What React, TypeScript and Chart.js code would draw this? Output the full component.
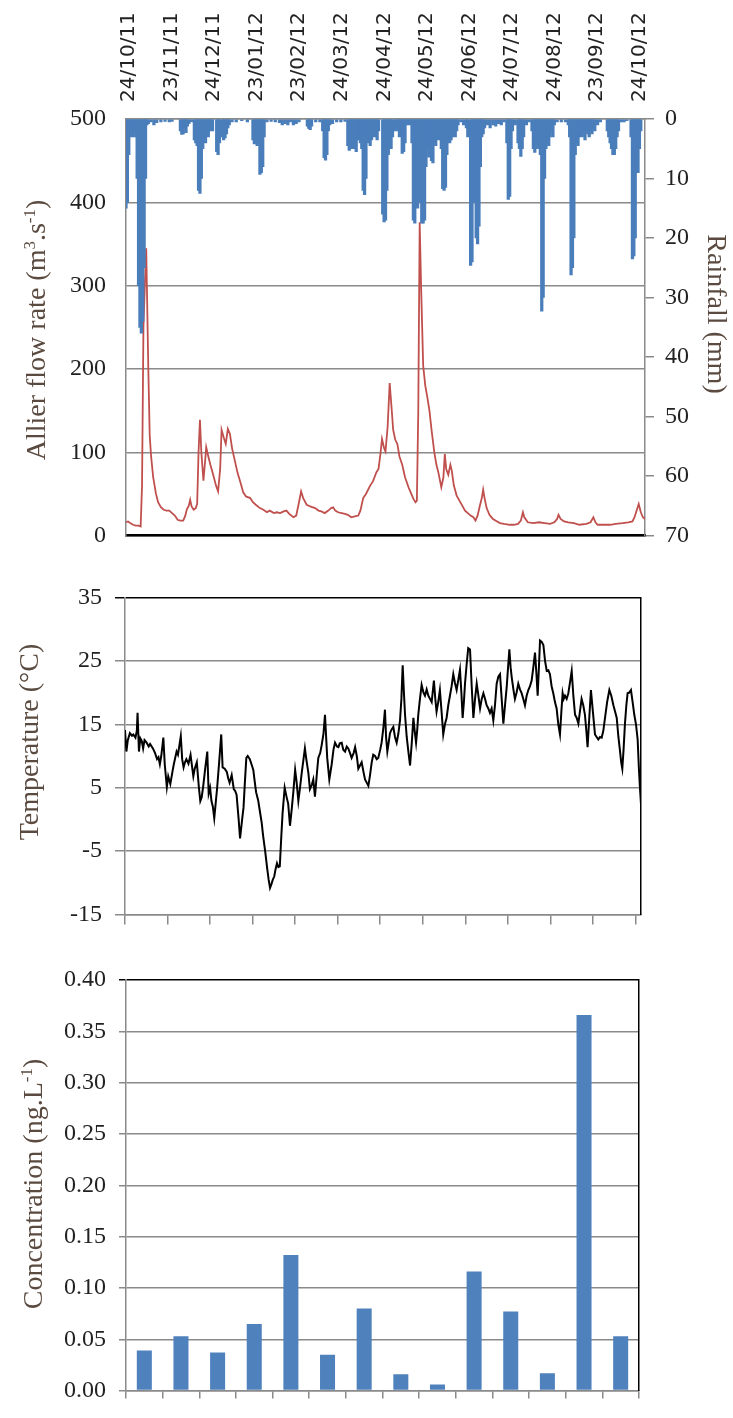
import React, { useEffect, useRef } from 'react';
import { Chart, registerables } from 'chart.js';

Chart.register(...registerables);

// ---------- data ----------
const dateLabels = ['24/10/11', '23/11/11', '24/12/11', '23/01/12', '23/02/12', '24/03/12', '24/04/12', '24/05/12', '24/06/12', '24/07/12', '24/08/12', '23/09/12', '24/10/12'];
const dateTickDays = [0, 30.5, 61, 91.5, 122, 152.5, 183, 213.5, 244, 274.5, 305, 335.5, 366];

// daily rainfall [day, mm]
const rainfall: [number, number][] = [
  [0,15],[1,14],[2,6],[3,3],[4,2.5],[5,3],[6,2],[7,3],[8,10],[9,28],[10,35],[11,36],[12,34],[13,25],[14,10],[15,1],[16,0.8],[18,0.5],[20,1],[22,0.6],[25,0.5],[28,0.4],[31,0.5],[33,0.4],
  [39,2],[40,2.6],[41,2.5],[42,1.5],[43,2.3],[44,1.2],[45,0.8],[47,0.5],[49,3.5],[50,4],[51,4.5],[52,12],[53,12.5],[54,10],[55,5],[56,3],[57,4],[58,2.5],[59,3],[60,2],[61,1.5],[62,2],
  [65,5.5],[66,6],[67,4],[69,3],[70,3.5],[71,3.2],[72,2.5],[73,1.5],[74,1],[76,0.5],[79,0.5],[83,0.3],[87,0.5],[91,3.5],[92,4.2],[93,4],[94,4.5],[95,4],[96,9.3],[97,9],[98,8],[99,3],
  [101,0.5],[104,0.4],[107,0.5],[110,0.6],[112,1],[114,0.8],[116,1],[118,0.5],[120,1],[122,0.8],[124,0.5],[130,1.2],[131,1.6],[132,1.8],[133,1.2],[136,0.5],[139,0.5],
  [141,2],[142,6.5],[143,6.9],[144,6],[145,2],[146,1],[148,0.8],[151,0.5],[154,0.5],[157,0.4],[159,4.5],[160,5.3],[161,5],[162,4.5],[163,5],[164,4],[165,5.5],[166,3.5],[167,3],[168,4],[169,5],
  [170,12],[171,12.7],[172,10],[173,4],[174,3],[175,4.5],[176,3.5],[177,2.5],[178,3],[179,2],[180,3.5],[181,2],[184,16],[185,17.3],[186,17],[187,12],[188,6],[189,5],[190,5],[191,3],
  [193,2],[194,1.5],[195,2],[196,3],[197,2],[198,5.8],[199,5.5],[200,4],[201,1],[202,0.8],[203,1],[204,0.8],[205,4],[206,17],[207,17.5],[208,12],[209,15],[210,10],[211,14],[212,17.5],
  [213,17.5],[214,17],[215,8],[216,5],[217,6.4],[218,5],[219,7],[220,7.4],[221,4],[222,4.5],[223,3],[224,3.5],[225,3],[226,5],[227,11.7],[228,12],[229,11.5],[230,6],[231,3.5],[232,4],
  [233,3.5],[234,3],[235,2],[236,3],[237,2],[238,1],[240,0.5],[242,1],[244,1.5],[245,3],[247,24.6],[248,24],[249,14],[250,12],[251,20],[252,21],[253,18],[254,8],[255,3],[256,2.5],[257,1.5],
  [259,1],[261,1.5],[263,1],[265,1.2],[267,0.8],[269,1],[271,0.5],[273,4],[274,13.5],[275,13],[276,5],[277,2],[279,1],[281,4],[282,5],[283,6.3],[284,5],[285,3],[287,1],[289,0.5],[291,2],
  [292,5],[293,5.6],[294,5],[295,4.5],[296,5],[297,6],[298,32.3],[299,30],[300,10],[301,5],[302,4],[303,4.5],[304,3],[305,2],[306,3],[307,1],[309,0.5],[312,0.5],[315,0.5],[317,1],
  [318,3],[319,26.2],[320,25],[321,20],[322,6],[323,4],[324,4.5],[325,3],[326,2.5],[327,3],[328,2.5],[329,3.5],[330,2],[331,2.5],[332,3],[333,2],[334,2.5],[335,1.5],[336,2],[338,1],[340,0.5],
  [345,2],[346,3],[347,4],[348,5],[349,6],[350,6],[351,5],[352,3],[353,2],[355,0.5],[357,0.5],[359,0.3],[362,3],[363,23.5],[364,23],[365,20],[366,9],[367,9],[368,5],[369,2]
];

// Allier flow rate [day, m3/s]
const flow: [number, number][] = [
  [0,16],[1.5,17],[3,15],[5,13],[7,12],[9,12],[10.5,11],[11.5,60],[12.5,250],[13.5,300],[14.5,345],[16,200],[17,120],[18,95],[19.5,70],[21.5,50],[23,40],[25,34],[27,31],[29,30],[31,30],
  [33,27],[35,24],[37,19],[39,18],[41,18],[42.5,24],[43.5,31],[45,36],[46,43],[47,35],[48.5,31],[50,33],[51,38],[52,100],[53,139],[54,100],[55.5,66],[56.5,85],[57.5,106],[59,95],[60.5,85],
  [62.5,73],[64.5,60],[66,53],[67.5,80],[68.5,127],[70,118],[71.5,110],[73,128],[74.5,122],[76,105],[78,90],[80,75],[82,64],[84,52],[86,47],[89,45],[91,40],[93,37],[96,33],[98.5,31],
  [101,28],[103,30],[106,27],[108,28],[110.5,27],[113,29],[115,30],[117,26],[120,22],[122,24],[124,40],[125.5,53],[127,45],[129.5,37],[132,35],[135.5,33],[138,30],[140,29],[142.5,27],
  [145,30],[147,33],[148.5,34],[150,30],[152,28],[154.5,27],[157,26],[159,25],[161.5,22],[164,23],[166.5,24],[168,30],[170,45],[172,50],[175,60],[177,65],[179.5,76],[181,80],[182.5,100],
  [183.5,116],[185,105],[186,101],[187.5,130],[189,183],[190.5,150],[191.5,127],[193,115],[194.5,110],[196,95],[198,85],[200,70],[202.5,58],[204.5,50],[206,44],[207.5,40],[208.5,42],
  [209.5,150],[210.5,376],[211.5,300],[213,204],[214.5,180],[216,166],[217.5,150],[219,127],[221,100],[222.5,85],[224,75],[226,58],[227.5,70],[228.5,98],[229.5,80],[231,73],[232.5,85],
  [233.5,78],[235,60],[237,48],[239,42],[241,36],[243,30],[245,27],[247,24],[249,22],[250.5,18],[252,24],[253.5,35],[255,45],[256,55],[257,45],[258.5,33],[260.5,25],[263,20],[266,17],
  [268,15],[271,14],[275,13],[278,13],[281,14],[283,18],[284.5,28],[285.5,22],[288,16],[292,15],[296,16],[300,15],[304,14],[307,16],[309,20],[310,25],[311.5,20],[314,17],[317,16],[321,15],
  [325,13],[330,14],[333,16],[335,22],[336.5,16],[338,13],[342,13],[347,13],[351,14],[356,15],[360,16],[363,17],[364.5,22],[366,30],[367.5,38],[369,28],[370.5,22],[372,20]
];

// water temperature [day, degC]
const temperature: [number, number][] = [
  [0,14.1],[1,10.7],[2,12.5],[3.5,13.6],[5,13.2],[6,13.4],[7.5,12.9],[8.5,14],[9,16.8],[10,10.7],[11,12.8],[12,12.4],[13,11.2],[14,12.5],[15.5,12.1],[17,11.5],[18,11.9],[20,11.2],
  [21.5,10.5],[23,9.5],[24,9.8],[25,8.7],[26,10],[27.5,12.9],[28.5,8.7],[30,5.1],[31,6.8],[32.5,5.6],[34,7.5],[35,8.7],[37,10.7],[38,10.2],[40,13.1],[41,9.5],[42,8.2],[43,9],[44,9.5],
  [45.5,8.8],[47,10.2],[48,8.5],[49,6.8],[50,8],[51.5,9],[53,5],[54,2.9],[55,3.5],[56,5.1],[57.5,8],[59,10.7],[60,4.1],[61,5],[62,2.9],[63,2],[64,0.2],[65,2.5],[66,4.8],[67.5,9],
  [69,13.4],[70,8.2],[71.5,8],[73,7.5],[74,6.5],[75,5.8],[76.5,7],[78,4.8],[79,4.5],[80,3.9],[81.5,0],[82.5,-3],[84,0],[85,1.9],[86,6],[87,9.7],[88,10],[89.5,9.5],[91,8.5],[92,7.8],
  [93,6],[94,4.3],[95.5,3],[97,0.9],[98,-0.5],[99,-2.5],[100.5,-5],[102,-7.8],[103,-9.5],[104,-10.8],[105,-10.2],[106,-9.5],[107,-9],[108,-7.8],[109,-6.9],[110,-7.5],[111,-7.4],
  [112,-3],[113,1],[114.5,5],[116,3.4],[117,2.5],[118.3,-1],[119.5,1.5],[120.7,4.3],[122,7.8],[123,6],[124.3,2.9],[125.5,5],[126.7,7.3],[128,9.5],[129,11.2],[130,9.5],[131.5,7.3],
  [132.6,4.8],[134,5.5],[135,6.3],[136.2,3.6],[137.5,7],[138.6,9.7],[140,10.5],[141,11.7],[142.3,13.5],[143.4,16.5],[145,9.7],[146.5,6.3],[148.2,8.7],[149.5,11],[150.6,12.1],[152,11.5],
  [153,11.4],[154,12],[155.4,12.1],[156.5,11],[157.8,10.7],[159,11.5],[160.1,11.2],[161.3,10.5],[162.5,9.7],[164,10.5],[165,11.4],[166.2,10],[167.3,8],[168.5,8.5],[169.7,9],[171,7.5],
  [172.1,6.3],[173.3,5.8],[174.5,5.3],[175.7,7],[176.9,9],[178,10.2],[179.3,10],[180.5,9.5],[181.6,9.7],[183,11],[184,12.1],[185.3,14.5],[186.4,17.3],[187.2,13],[188.1,10.7],[189,12],
  [190,13.6],[191.2,14.2],[192.4,14.6],[193.6,13],[194.8,12.1],[196,13.5],[197.2,15.6],[198.2,19],[199.1,24.3],[200,20],[200.8,16.5],[202,13],[203.2,10.7],[204.4,8.5],[205.6,12],
  [206.8,16],[207.7,14],[208.7,12.1],[209.5,14],[210.3,16.5],[211.5,19],[212.7,21.2],[214,20],[215.1,19.5],[216.3,20.5],[217.5,19.5],[218.7,19],[219.9,18.5],[221.5,21.9],[222.5,19],
  [223.4,17],[224.6,18.5],[225.8,20.4],[227,17],[228.2,13.4],[229.4,15],[230.6,16],[231.8,18],[233,19.5],[234.2,21],[235.4,22.9],[236.6,21.5],[237.8,20.4],[239,22],[240.2,23.6],
  [241.2,20],[242.1,16],[243,18.5],[243.8,21.4],[245,24.5],[246.1,27],[247.4,26.8],[248.6,21],[249.8,16],[251,19],[252.2,21.4],[253.4,19.5],[254.6,17.5],[255.8,19],[257,19.9],
  [258.2,19],[259.3,18],[260.5,17.5],[261.7,16.8],[262.9,17.5],[264.1,15.6],[265.3,18],[266.5,21.4],[267.7,22.5],[268.9,22.9],[270.1,19],[271.3,15.1],[272.5,18],[273.7,20.9],[274.7,24],
  [275.6,26.8],[276.5,24],[277.3,22.4],[278.5,20.5],[279.6,19],[280.8,20],[282,21.4],[283.2,20.5],[284.4,19.9],[285.6,19],[286.8,18],[288,19.5],[289.2,20.4],[290.4,21],[291.6,21.9],
  [292.8,24],[294,26.3],[295,23],[295.9,19.5],[296.8,24],[297.6,28.2],[298.8,28],[300,27.5],[301.2,25],[302.4,23.4],[303.6,23.5],[304.7,22.9],[305.9,21],[307.1,19.9],[308.3,18.5],
  [309.5,17.5],[310.7,15],[311.9,13.4],[312.9,17],[313.8,19.9],[314.6,19],[315.5,19.5],[316.7,19],[317.9,19.9],[319,21.5],[320.3,23.4],[321.5,19.5],[322.7,16.5],[323.9,16],[325.1,15.1],
  [326.2,17],[327.4,19],[328.6,18],[329.8,16.5],[330.8,14],[331.7,11.4],[332.9,16],[334.1,20.4],[335.5,17],[337,13.4],[338.2,13],[339.4,12.6],[340.6,13],[341.8,12.9],[343,14],[344.2,16],
  [345.7,18.5],[347.3,20.4],[348.7,19.5],[350.2,18],[351.4,17],[352.6,16],[353.8,13],[355,10.7],[355.8,9],[356.6,8],[357.5,11],[358.5,15.1],[359.5,18],[360.4,19.9],[361.6,20],
  [362.8,20.4],[364,18.5],[365.2,16.5],[366.4,15],[367.6,12.6],[368.5,8],[369.3,4.8],[370,2.4]
];

const sampleLabels = ['1', '2', '3', '4', '5', '6', '7', '8', '9', '10', '11', '12', '13', '14'];
const concentration = [0.039, 0.053, 0.037, 0.065, 0.132, 0.035, 0.080, 0.016, 0.006, 0.116, 0.077, 0.017, 0.366, 0.053];

// ---------- styles ----------
const GRID = '#8a8a8a';
const TICK_COLOR = '#222';
const TITLE_COLOR = '#5a4a40';
const SERIF = "'Liberation Serif', 'Times New Roman', serif";
const TICK_FONT = { family: SERIF, size: 24 };
const TITLE_SIZE = 28;

type Seg = { t: string; sup?: boolean };
type TitleSpec = { segs: Seg[]; x: number; y: number; rot: number };

function makeTitlePlugin(id: string, specs: TitleSpec[]) {
  return {
    id,
    afterDraw(chart: any) {
      const ctx: CanvasRenderingContext2D = chart.ctx;
      for (const s of specs) {
        ctx.save();
        ctx.translate(s.x, s.y);
        ctx.rotate(s.rot);
        ctx.fillStyle = TITLE_COLOR;
        ctx.textBaseline = 'alphabetic';
        ctx.textAlign = 'left';
        const fN = `${TITLE_SIZE}px ${SERIF}`;
        const fS = `${Math.round(TITLE_SIZE * 0.6)}px ${SERIF}`;
        let total = 0;
        const widths = s.segs.map((seg) => {
          ctx.font = seg.sup ? fS : fN;
          const w = ctx.measureText(seg.t).width;
          total += w;
          return w;
        });
        const base = TITLE_SIZE * 0.33;
        let cx = -total / 2;
        s.segs.forEach((seg, i) => {
          ctx.font = seg.sup ? fS : fN;
          ctx.fillText(seg.t, cx, seg.sup ? base - TITLE_SIZE * 0.38 : base);
          cx += widths[i];
        });
        ctx.restore();
      }
    },
  };
}

export default function App() {
  const r1 = useRef<HTMLCanvasElement>(null);
  const r2 = useRef<HTMLCanvasElement>(null);
  const r3 = useRef<HTMLCanvasElement>(null);

  useEffect(() => {
    const setDateTicks = (s: any) => {
      s.ticks = dateTickDays.map((v) => ({ value: v }));
    };

    const c1 = new Chart(r1.current as HTMLCanvasElement, {
      type: 'bar',
      data: {
        datasets: [
          {
            type: 'bar',
            label: 'Rainfall (mm)',
            data: rainfall.map(([d, v]) => ({ x: d, y: v })),
            xAxisID: 'x',
            yAxisID: 'y2',
            backgroundColor: '#4a7ebb',
            borderWidth: 0,
            barThickness: 2.6,
            order: 0,
          } as any,
          {
            type: 'line',
            label: 'Allier flow rate',
            data: flow.map(([d, v]) => ({ x: d, y: v })),
            xAxisID: 'x',
            yAxisID: 'y',
            borderColor: '#c0504d',
            borderWidth: 1.8,
            pointRadius: 0,
            tension: 0,
            order: 1,
          } as any,
        ],
      },
      options: {
        responsive: false,
        animation: false,
        layout: { padding: 0 },
        plugins: { legend: { display: false }, tooltip: { enabled: false } },
        scales: {
          x: {
            type: 'linear',
            position: 'top',
            offset: false,
            min: 0,
            max: 372,
            afterBuildTicks: setDateTicks,
            afterFit: (s: any) => { s.height = 119; },
            grid: { display: false, drawTicks: false, offset: false },
            border: { display: true, color: GRID, width: 1.5 },
            ticks: {
              autoSkip: false,
              minRotation: 90,
              maxRotation: 90,
              padding: 17,
              labelOffset: 27,
              font: { family: "'DejaVu Sans', sans-serif", size: 20 },
              color: TICK_COLOR,
              callback: (_v: any, i: number) => dateLabels[i],
            },
          },
          xb: {
            type: 'linear',
            position: 'bottom',
            offset: false,
            min: 0,
            max: 372,
            afterFit: (s: any) => { s.height = 16; },
            grid: { display: false, drawTicks: false },
            ticks: { display: false },
            border: { display: true, color: '#000', width: 2.5 },
          },
          y: {
            position: 'left',
            min: 0,
            max: 500,
            afterFit: (s: any) => { s.width = 126; },
            ticks: { stepSize: 100, padding: 20, font: TICK_FONT, color: TICK_COLOR },
            grid: { color: GRID, lineWidth: 1.5, drawTicks: false },
            border: { color: GRID, width: 1.5 },
          },
          y2: {
            position: 'right',
            min: 0,
            max: 70,
            reverse: true,
            afterFit: (s: any) => { s.width = 88; },
            ticks: { stepSize: 10, padding: 11, font: TICK_FONT, color: TICK_COLOR },
            grid: { drawOnChartArea: false, tickLength: 9, color: GRID, lineWidth: 1.5 },
            border: { color: GRID, width: 1.5 },
          },
        },
      } as any,
      plugins: [
        makeTitlePlugin('titles1', [
          { segs: [{ t: 'Allier flow rate (m' }, { t: '3', sup: true }, { t: '.s' }, { t: '-1', sup: true }, { t: ')' }], x: 36, y: 330, rot: -Math.PI / 2 },
          { segs: [{ t: 'Rainfall (mm)' }], x: 717, y: 314, rot: Math.PI / 2 },
        ]),
      ],
    });

    const c2 = new Chart(r2.current as HTMLCanvasElement, {
      type: 'line',
      data: {
        datasets: [
          {
            label: 'Temperature',
            data: temperature.map(([d, v]) => ({ x: d, y: v })),
            borderColor: '#000',
            borderWidth: 2,
            pointRadius: 0,
            tension: 0,
          },
        ],
      },
      options: {
        responsive: false,
        animation: false,
        layout: { padding: { top: 17 } },
        plugins: { legend: { display: false }, tooltip: { enabled: false } },
        scales: {
          x: {
            type: 'linear',
            position: 'bottom',
            min: 0,
            max: 370,
            afterBuildTicks: setDateTicks,
            afterFit: (s: any) => { s.height = 13; },
            ticks: { display: false },
            grid: { drawOnChartArea: false, tickLength: 10, color: GRID, lineWidth: 1.5 },
            border: { color: GRID, width: 1.5 },
          },
          y: {
            position: 'left',
            min: -15,
            max: 35,
            afterFit: (s: any) => { s.width = 125; },
            ticks: { stepSize: 10, padding: 13, font: TICK_FONT, color: TICK_COLOR },
            grid: {
              color: (c: any) => (c.tick && c.tick.value === 35 ? '#000' : GRID),
              lineWidth: 1.5,
              tickLength: 10,
            },
            border: { color: GRID, width: 1.5 },
          },
          yr: {
            position: 'right',
            min: -15,
            max: 35,
            afterFit: (s: any) => { s.width = 92; },
            ticks: { display: false },
            grid: { display: false, drawTicks: false },
            border: { display: true, color: '#000', width: 1.5 },
          },
        },
      } as any,
      plugins: [
        makeTitlePlugin('titles2', [
          { segs: [{ t: 'Temperature (°C)' }], x: 29, y: 172, rot: -Math.PI / 2 },
        ]),
      ],
    });

    const c3 = new Chart(r3.current as HTMLCanvasElement, {
      type: 'bar',
      data: {
        labels: sampleLabels,
        datasets: [
          {
            label: 'Concentration',
            data: concentration,
            backgroundColor: '#4f81bd',
            borderWidth: 0,
            barPercentage: 0.82,
            categoryPercentage: 0.5,
          },
        ],
      },
      options: {
        responsive: false,
        animation: false,
        layout: { padding: { top: 38 } },
        plugins: { legend: { display: false }, tooltip: { enabled: false } },
        scales: {
          x: {
            type: 'category',
            afterFit: (s: any) => { s.height = 11; },
            ticks: { display: false },
            grid: { offset: true, drawOnChartArea: false, tickLength: 8, color: GRID, lineWidth: 1.5 },
            border: { color: GRID, width: 1.5 },
          },
          y: {
            position: 'left',
            min: 0,
            max: 0.4,
            afterFit: (s: any) => { s.width = 126; },
            ticks: {
              stepSize: 0.05,
              padding: 13,
              font: TICK_FONT,
              color: TICK_COLOR,
              callback: (v: any) => Number(v).toFixed(2),
            },
            grid: {
              color: (c: any) => (c.tick && Math.abs(c.tick.value - 0.4) < 1e-6 ? '#000' : GRID),
              lineWidth: 1.5,
              tickLength: 7,
            },
            border: { color: GRID, width: 1.5 },
          },
          yr: {
            position: 'right',
            min: 0,
            max: 0.4,
            afterFit: (s: any) => { s.width = 94; },
            ticks: { display: false },
            grid: { display: false, drawTicks: false },
            border: { display: true, color: '#000', width: 1.5 },
          },
        },
      } as any,
      plugins: [
        makeTitlePlugin('titles3', [
          { segs: [{ t: 'Concentration (ng.L' }, { t: '-1', sup: true }, { t: ')' }], x: 33, y: 242, rot: -Math.PI / 2 },
        ]),
      ],
    });

    return () => {
      c1.destroy();
      c2.destroy();
      c3.destroy();
    };
  }, []);

  return (
    <div style={{ position: 'absolute', left: 0, top: 0, width: 733, height: 1418, background: '#fff' }}>
      <canvas ref={r1} width={733} height={570} style={{ position: 'absolute', left: 0, top: 0, width: 733, height: 570 }} />
      <canvas ref={r2} width={733} height={372} style={{ position: 'absolute', left: 0, top: 570, width: 733, height: 372 }} />
      <canvas ref={r3} width={733} height={476} style={{ position: 'absolute', left: 0, top: 942, width: 733, height: 476 }} />
    </div>
  );
}
